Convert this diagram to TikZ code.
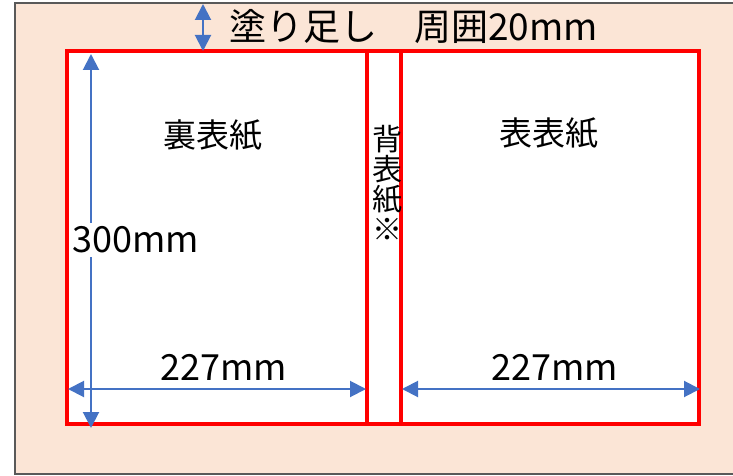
\documentclass[tikz,border=0pt]{standalone}
\usepackage{fontspec}
\setmainfont{Noto Sans CJK JP}
\usetikzlibrary{arrows.meta, positioning}
\definecolor{bleed}{HTML}{FBE5D6}
\definecolor{dimblue}{HTML}{4472C4}
\definecolor{framegray}{HTML}{595959}
\tikzstyle{page} = [rectangle, draw=red, line width=3.5pt, fill=white, inner sep=0pt, minimum height=373pt]
\tikzstyle{arrow} = [draw=dimblue, line width=2pt, {Triangle[length=16pt,width=16pt]}-{Triangle[length=16pt,width=16pt]}]
\tikzstyle{dimtext} = [inner sep=1pt, font=\fontsize{36}{36}\selectfont]

\begin{document}
\begin{tikzpicture}[x=1pt, y=-1pt]
\useasboundingbox (0,0) rectangle (733,476);
\clip (0,0) rectangle (733,476);

% bleed area
\draw [framegray, line width=2.5pt, fill=bleed] (15,3) rectangle (760,474);

\node at (217, 237.5) (back) [page, minimum width=300pt] {};
\node at (384, 237.5) (spine) [page, minimum width=34pt] {};
\node at (550, 237.5) (front) [page, minimum width=298pt] {};

\node at (213, 135) (backname) [dimtext, font=\fontsize{33}{33}\selectfont] {裏表紙};
\node at (549, 133) (frontname) [dimtext, font=\fontsize{33}{33}\selectfont] {表表紙};
\node at (387, 183) (spinename) [inner sep=0pt, align=center, font=\fontsize{30}{30}\selectfont] {背\\表\\紙\\※};

\coordinate (b1) at (203, 4);
\coordinate (b2) at (203, 51);
\coordinate (h1) at (91, 54);
\coordinate (h2) at (91, 428);
\coordinate (w1) at (68, 389);
\coordinate (w2) at (366, 389);
\coordinate (w3) at (402, 389);
\coordinate (w4) at (700, 389);

\draw [arrow] (b1) -- (b2);
\draw [arrow] (h1) -- (h2);
\draw [arrow] (w1) -- (w2);
\draw [arrow] (w3) -- (w4);

\node [anchor=west, dimtext, font=\fontsize{37}{37}\selectfont] at (228, 27) (bleedtext) {塗り足し　周囲20mm};
\node [anchor=west, dimtext, fill=white, inner ysep=4pt] at (71, 240) (height) {300mm};
\node at (224, 367) (backwidth) [dimtext] {227mm};
\node at (555, 367) (frontwidth) [dimtext] {227mm};

\end{tikzpicture}
\end{document}
